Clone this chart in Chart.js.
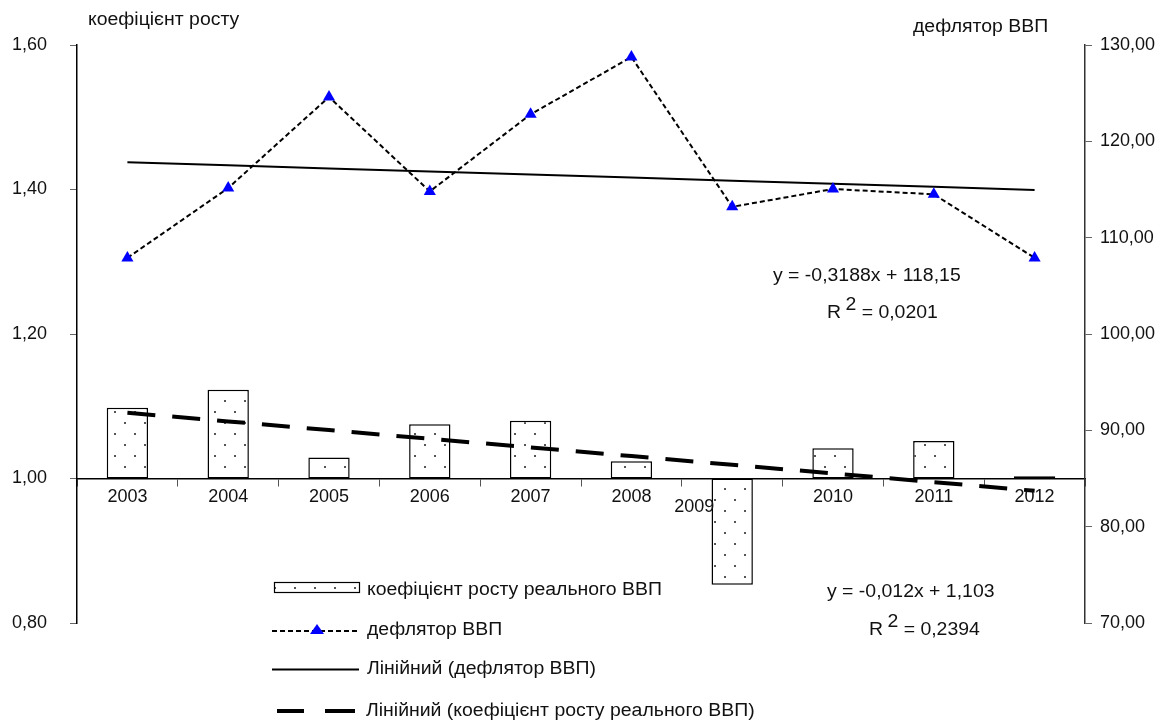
<!DOCTYPE html>
<html>
<head>
<meta charset="utf-8">
<script src="https://cdn.jsdelivr.net/npm/chart.js@4/dist/chart.umd.min.js"></script>
<style>
  html, body { margin: 0; padding: 0; background: #fff; }
  #wrap { width: 1171px; height: 728px; position: relative; }
</style>
</head>
<body>
<div id="wrap"><canvas id="c" width="1171" height="728"></canvas></div>
<script>
// Years on the category axis
const years = ['2003', '2004', '2005', '2006', '2007', '2008', '2009', '2010', '2011', '2012'];
// Real GDP growth coefficient (left axis)
const growthRate = [1.098, 1.123, 1.029, 1.075, 1.080, 1.024, 0.853, 1.042, 1.052, 1.003];
// GDP deflator (right axis)
const deflator = [107.9, 115.15, 124.6, 114.8, 122.8, 128.75, 113.2, 115.05, 114.5, 107.9];
// Linear trend of the deflator: y = -0,3188x + 118,15
const deflatorTrend = [117.83, 117.51, 117.19, 116.88, 116.56, 116.24, 115.92, 115.60, 115.28, 114.96];
// Linear trend of the growth coefficient: y = -0,012x + 1,103
const growthTrend = [1.091, 1.079, 1.067, 1.055, 1.043, 1.031, 1.019, 1.007, 0.995, 0.983];
// Axis ranges
const leftRange = { min: 0.8, max: 1.6, step: 0.2 };
const rightRange = { min: 70, max: 130, step: 10 };

const FONT = '"Liberation Sans", Arial, sans-serif';
const TXT = '#111';
const STRETCH = 1.08; // slightly wide lettering for titles, legend and equations

// dotted fill for the bars
function dotPattern() {
  const t = document.createElement('canvas');
  t.width = 20; t.height = 22;
  const g = t.getContext('2d');
  g.fillStyle = '#fff';
  g.fillRect(0, 0, 20, 22);
  g.fillStyle = '#555';
  g.fillRect(4, 4, 2, 2);
  g.fillRect(14, 15, 2, 2);
  return document.getElementById('c').getContext('2d').createPattern(t, 'repeat');
}
const barFill = dotPattern();

const commaFmt = (v, d) => Number(v).toFixed(d).replace('.', ',');

const overlay = {
  id: 'overlay',
  afterDraw(chart) {
    const ctx = chart.ctx;
    const xs = chart.scales.x;
    ctx.save();
    ctx.fillStyle = TXT;
    ctx.font = '18px ' + FONT;
    ctx.textBaseline = 'middle';

    function wide(str, x, y) {
      ctx.save();
      ctx.textAlign = 'left';
      ctx.translate(x, y);
      ctx.scale(STRETCH, 1);
      ctx.fillText(str, 0, 0);
      ctx.restore();
      return ctx.measureText(str).width * STRETCH;
    }

    // axis titles
    wide('коефіцієнт росту', 88, 20);
    wide('дефлятор ВВП', 913, 27);

    // category labels under the axis line
    ctx.textAlign = 'center';
    years.forEach((y, i) => {
      const px = xs.getPixelForValue(i);
      if (y === '2009') ctx.fillText(y, px - 38, 507);
      else ctx.fillText(y, px, 497);
    });

    // trend equations
    function rSquared(x, y, val) {
      let cx = x + wide('R ', x, y) - 1;
      cx += wide('2', cx, y - 8);
      wide(' = ' + val, cx, y);
    }
    wide('y = -0,3188x + 118,15', 773, 276);
    rSquared(827, 313, '0,0201');
    wide('y = -0,012x + 1,103', 827, 592);
    rSquared(869, 630, '0,2394');

    // legend
    // 1. bars
    ctx.fillStyle = barFill;
    ctx.fillRect(274, 582, 85, 10);
    ctx.strokeStyle = '#000';
    ctx.lineWidth = 1.2;
    ctx.strokeRect(274.5, 582.5, 85, 10);
    ctx.fillStyle = TXT;
    wide('коефіцієнт росту реального ВВП', 367, 590);
    // 2. deflator
    ctx.beginPath();
    ctx.setLineDash([5, 3]);
    ctx.lineWidth = 2;
    ctx.moveTo(272, 631); ctx.lineTo(360, 631);
    ctx.stroke();
    ctx.setLineDash([]);
    ctx.fillStyle = '#0000ff';
    ctx.beginPath();
    ctx.moveTo(317, 624); ctx.lineTo(324, 634); ctx.lineTo(310, 634); ctx.closePath();
    ctx.fill();
    ctx.fillStyle = TXT;
    wide('дефлятор ВВП', 367, 630);
    // 3. deflator trend
    ctx.beginPath();
    ctx.lineWidth = 2;
    ctx.moveTo(272, 669.5); ctx.lineTo(359, 669.5);
    ctx.stroke();
    wide('Лінійний (дефлятор ВВП)', 367, 669);
    // 4. growth trend
    ctx.beginPath();
    ctx.lineWidth = 4;
    ctx.moveTo(277, 711); ctx.lineTo(304, 711);
    ctx.moveTo(325, 711); ctx.lineTo(355, 711);
    ctx.stroke();
    wide('Лінійний (коефіцієнт росту реального ВВП)', 366, 711);
    ctx.restore();
  }
};

new Chart(document.getElementById('c'), {
  data: {
    labels: years,
    datasets: [
      {
        type: 'line',
        label: 'Лінійний (коефіцієнт росту реального ВВП)',
        data: growthTrend,
        yAxisID: 'y',
        borderColor: '#000',
        borderWidth: 4,
        borderDash: [28, 17],
        pointRadius: 0,
        tension: 0,
        order: 2
      },
      {
        type: 'line',
        label: 'Лінійний (дефлятор ВВП)',
        data: deflatorTrend,
        yAxisID: 'y2',
        borderColor: '#000',
        borderWidth: 2,
        pointRadius: 0,
        tension: 0,
        order: 3
      },
      {
        type: 'line',
        label: 'дефлятор ВВП',
        data: deflator,
        yAxisID: 'y2',
        borderColor: '#000',
        borderWidth: 2,
        borderDash: [5, 3],
        pointStyle: 'triangle',
        pointRadius: 7,
        pointBackgroundColor: '#0000ff',
        pointBorderColor: '#0000ff',
        pointBorderWidth: 0,
        tension: 0,
        order: 1
      },
      {
        type: 'bar',
        label: 'коефіцієнт росту реального ВВП',
        data: growthRate.map(v => [1, v]),
        yAxisID: 'y',
        backgroundColor: barFill,
        borderColor: '#000',
        borderWidth: 1.5,
        borderSkipped: false,
        categoryPercentage: 1,
        barPercentage: 0.41,
        order: 4
      }
    ]
  },
  options: {
    responsive: false,
    animation: false,
    layout: { padding: { top: 45, bottom: 105, left: 0, right: 0 } },
    plugins: { legend: { display: false }, tooltip: { enabled: false } },
    scales: {
      x: {
        type: 'category',
        position: { y: 1 },
        offset: true,
        grid: { offset: true, drawOnChartArea: false, drawTicks: true, tickLength: 7, color: '#555', lineWidth: 1 },
        border: { display: true, color: '#000', width: 1.5 },
        ticks: { display: false }
      },
      y: {
        position: 'left',
        min: leftRange.min, max: leftRange.max,
        afterFit(s) { s.width = 77; },
        grid: { drawOnChartArea: false, tickLength: 7, color: '#666' },
        border: { display: true, color: '#000', width: 1.5 },
        ticks: {
          stepSize: leftRange.step,
          padding: 23,
          color: TXT,
          font: { family: FONT, size: 18 },
          callback: v => commaFmt(v, 2)
        }
      },
      y2: {
        position: 'right',
        min: rightRange.min, max: rightRange.max,
        afterFit(s) { s.width = 86; },
        grid: { drawOnChartArea: false, tickLength: 7, color: '#666' },
        border: { display: true, color: '#333', width: 1.5 },
        ticks: {
          stepSize: rightRange.step,
          padding: 8,
          color: TXT,
          font: { family: FONT, size: 18 },
          callback: v => commaFmt(v, 2)
        }
      }
    }
  },
  plugins: [overlay]
});
</script>
</body>
</html>
